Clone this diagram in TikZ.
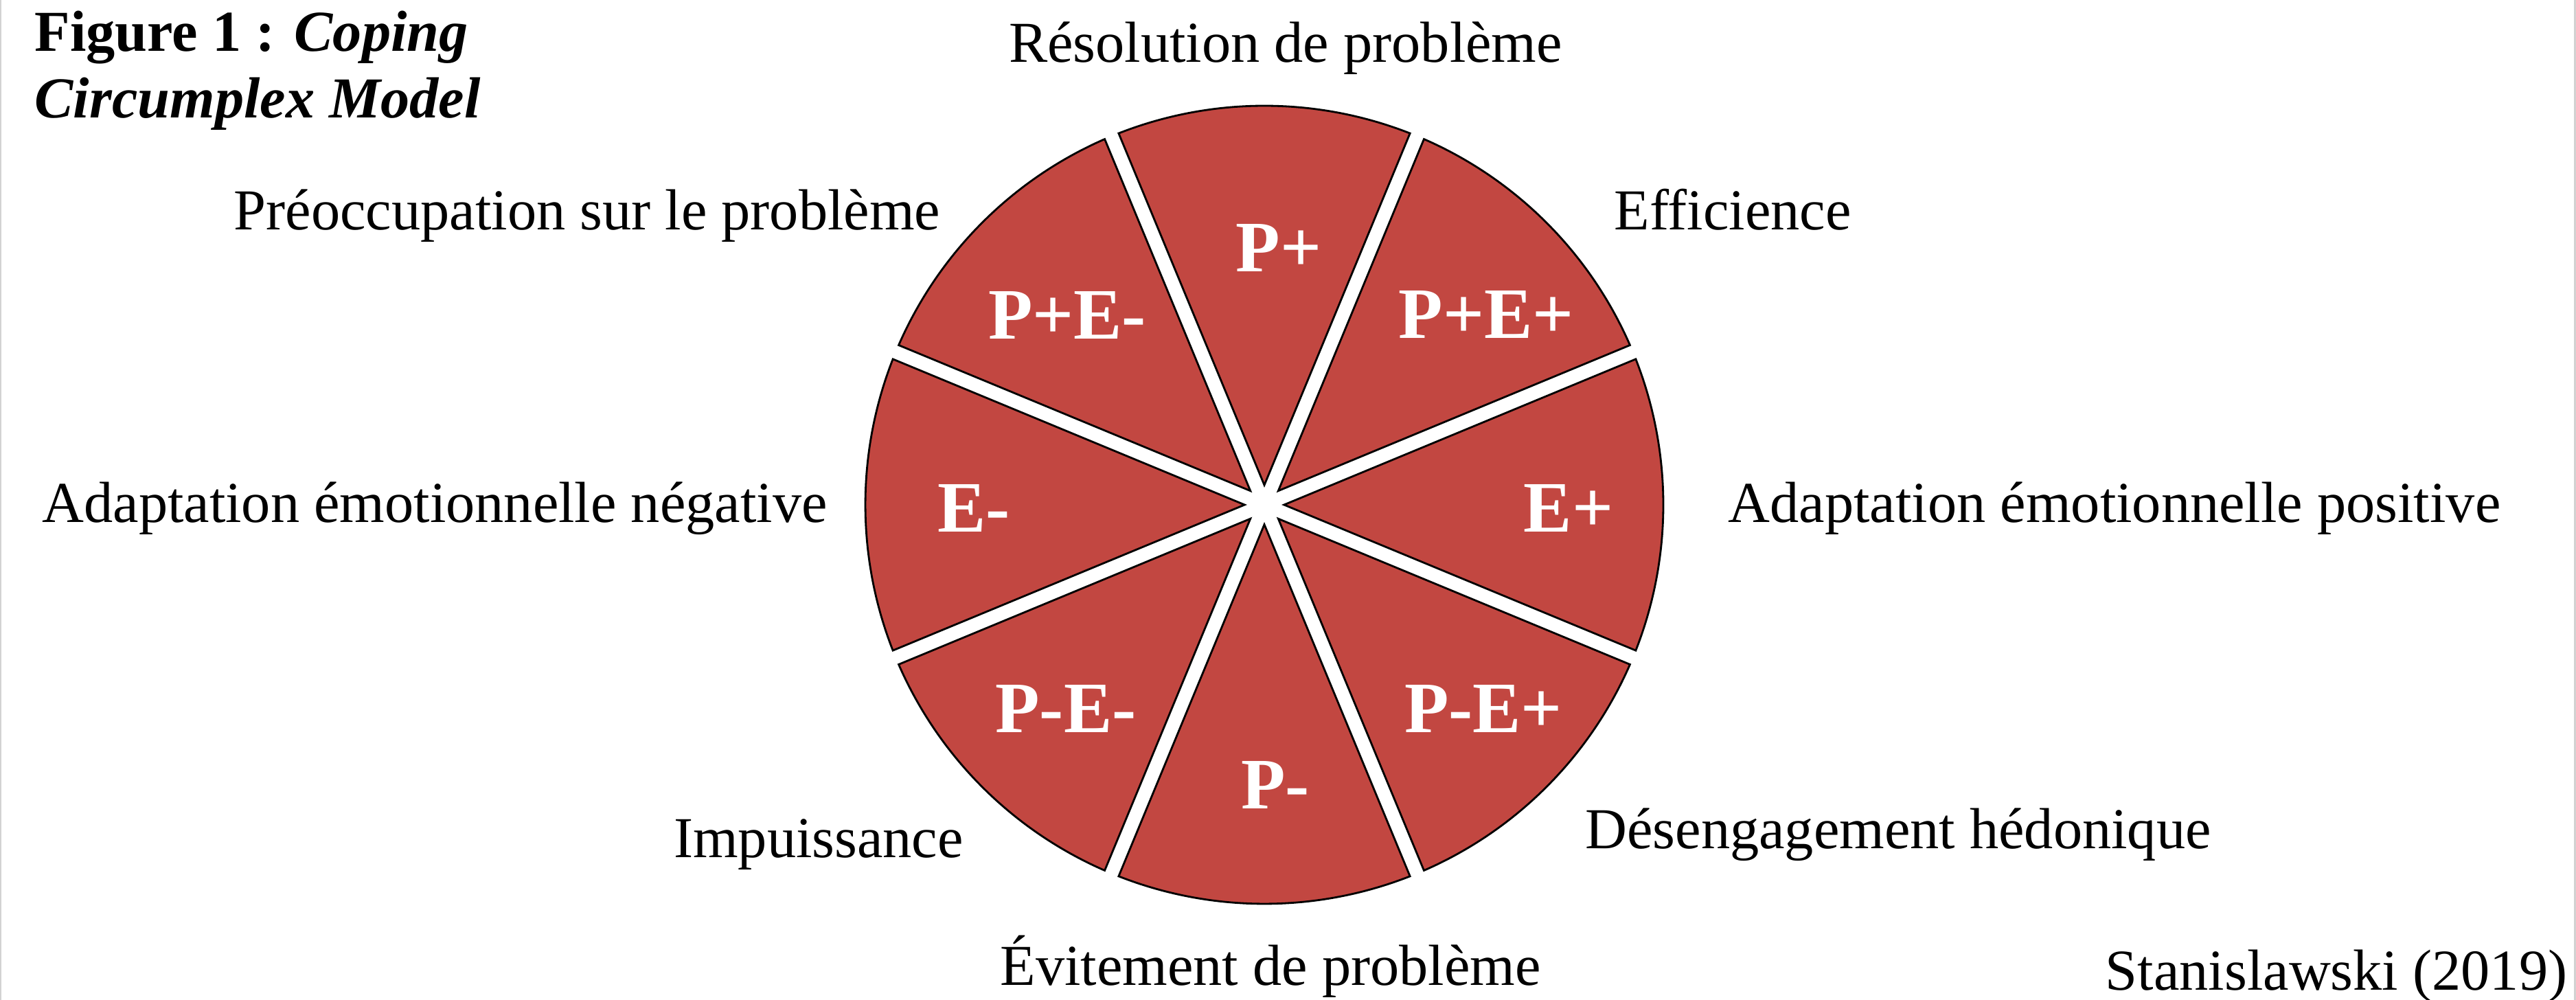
\documentclass[tikz,border=0pt]{standalone}
\usepackage{fontspec}
\setmainfont{Liberation Serif}
\usepackage{tikz}
\definecolor{wedgered}{RGB}{194,71,65}

\begin{document}
\begin{tikzpicture}[
    wedge/.style={fill=wedgered, draw=black, line width=0.8pt},
    inlabel/.style={text=white, font=\fontsize{30}{36}\selectfont\bfseries, inner sep=0pt},
    outlabel/.style={font=\fontsize{24}{28}\selectfont, inner sep=0pt, anchor=base}
  ]
  \useasboundingbox (0,0) rectangle (37.51,14.56);
  \draw[gray!35, line width=0.3mm] (0.01,0) -- (0.01,14.56);
  \draw[gray!35, line width=0.3mm] (37.49,0) -- (37.49,14.56);

  \coordinate (c) at (18.41,7.21);
  \begin{scope}[shift={(c)}]
    \foreach \a in {90,45,...,-225}
      \draw[wedge] (\a:0.287) -- (\a-21.415:5.81)
        arc[start angle=\a-21.415, end angle=\a+21.415, radius=5.81] -- cycle;
  \end{scope}

  \node[inlabel] (pp)   at (18.62,10.95) {P+};
  \node[inlabel] (ppep) at (21.64,9.98)  {P+E+};
  \node[inlabel] (ep)   at (22.84,7.16)  {E+};
  \node[inlabel] (pmep) at (21.60,4.24)  {P-E+};
  \node[inlabel] (pm)   at (18.57,3.13)  {P-};
  \node[inlabel] (pmem) at (15.52,4.24)  {P-E-};
  \node[inlabel] (em)   at (14.18,7.16)  {E-};
  \node[inlabel] (ppem) at (15.54,9.97)  {P+E-};

  \node[outlabel] (res)    at (18.72,13.65) {Résolution de problème};
  \node[outlabel] (eff)    at (25.23,11.21) {Efficience};
  \node[outlabel] (preo)   at (8.55,11.21)  {Préoccupation sur le problème};
  \node[outlabel] (aneg)   at (6.33,6.95)   {Adaptation émotionnelle négative};
  \node[outlabel] (apos)   at (30.79,6.95)  {Adaptation émotionnelle positive};
  \node[outlabel] (imp)    at (11.92,2.07)  {Impuissance};
  \node[outlabel] (deseng) at (27.64,2.20)  {Désengagement hédonique};
  \node[outlabel] (evit)   at (18.50,0.21)  {Évitement de problème};
  \node[outlabel, anchor=base east] (src) at (37.39,0.14) {Stanislawski (2019)};

  \node[outlabel, anchor=base west] (title1) at (0.50,13.81) {\textbf{Figure 1 : \textit{Coping}}};
  \node[outlabel, anchor=base west] (title2) at (0.50,12.84) {\textbf{\textit{Circumplex Model}}};
\end{tikzpicture}
\end{document}
